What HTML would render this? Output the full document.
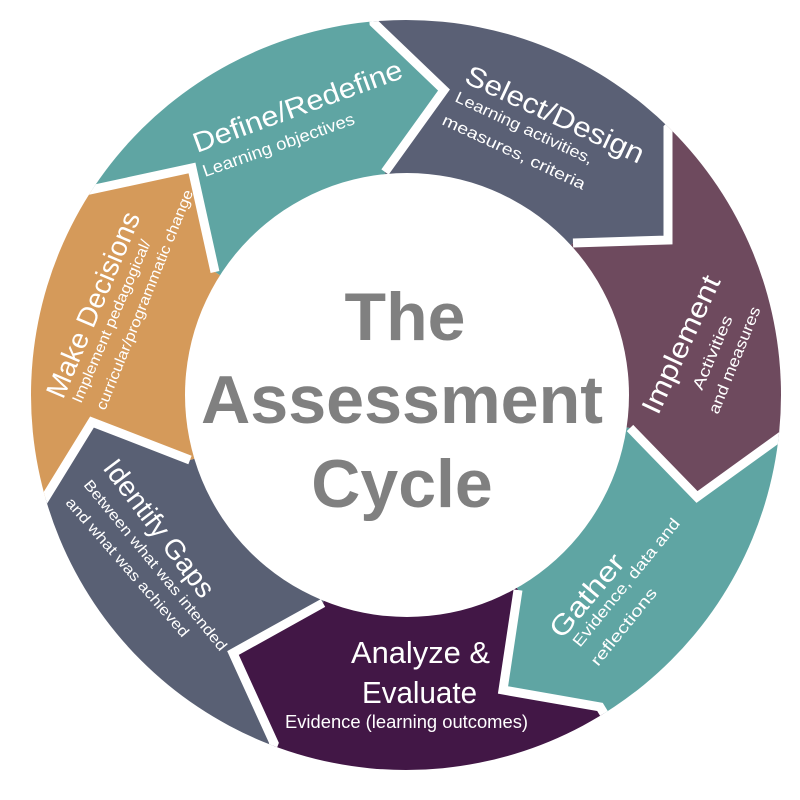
<!DOCTYPE html>
<html><head><meta charset="utf-8"><style>
html,body{margin:0;padding:0;background:#fff;width:800px;height:800px;overflow:hidden;}
svg{display:block;overflow:hidden;}
text{font-family:"Liberation Sans",sans-serif;fill:#fff;}
</style></head><body>
<svg width="800" height="800" viewBox="0 0 800 800" xmlns="http://www.w3.org/2000/svg">
<defs><clipPath id="c"><circle cx="406" cy="395" r="375"/></clipPath></defs>
<g clip-path="url(#c)">
<polygon fill="#5fa5a3" points="406,395 215,272 192,168 90,190 0,132 0,0 372,0 374,23 444,90 385,172"/>
<polygon fill="#5a6075" points="406,395 385,172 444,90 374,23 372,0 793,0 668,128 668,240 573,243"/>
<polygon fill="#6e4a5e" points="406,395 573,243 668,240 668,128 793,0 800,0 800,439 780,437 697,497 630,428"/>
<polygon fill="#5fa5a3" points="406,395 630,428 697,497 780,437 800,439 800,800 657,800 600,707 503,690 518,590"/>
<polygon fill="#421746" points="406,395 518,590 503,690 600,707 657,800 252,800 274,743 233,653 323,603"/>
<polygon fill="#596074" points="406,395 323,603 233,653 274,743 252,800 0,800 0,513 44,500 92,422 190,460"/>
<polygon fill="#d59a5a" points="406,395 190,460 92,422 44,500 0,513 0,132 90,190 192,168 215,272"/>
<g fill="none" stroke="#fff" stroke-width="9" stroke-linejoin="miter">
<polyline points="385,172 444,90 374,23 372,0"/>
<polyline points="573,243 668,240 668,128 793,0"/>
<polyline points="630,428 697,497 780,437 800,439"/>
<polyline points="518,590 503,690 600,707 657,800"/>
<polyline points="323,603 233,653 274,743 252,800"/>
<polyline points="190,460 92,422 44,500 0,513"/>
<polyline points="215,272 192,168 90,190 0,132"/>
</g>
</g>
<circle cx="407" cy="395" r="222" fill="#fff"/>
<g style="font-weight:bold;fill:#808080" text-anchor="middle" font-size="68">
<text x="405" y="340" style="fill:#808080">The</text>
<text x="402" y="423" style="fill:#808080" textLength="402" lengthAdjust="spacingAndGlyphs">Assessment</text>
<text x="402" y="507" style="fill:#808080">Cycle</text>
</g>
<text transform="translate(197,153) rotate(-20)" font-size="28" textLength="221" lengthAdjust="spacingAndGlyphs">Define/Redefine</text>
<text transform="translate(205,177) rotate(-19.5)" font-size="17" textLength="160" lengthAdjust="spacingAndGlyphs">Learning objectives</text>
<text transform="translate(463,82) rotate(25)" font-size="28" textLength="194" lengthAdjust="spacingAndGlyphs">Select/Design</text>
<text transform="translate(454,101) rotate(25)" font-size="16" textLength="150" lengthAdjust="spacingAndGlyphs">Learning activities,</text>
<text transform="translate(441,124) rotate(25)" font-size="16" textLength="156" lengthAdjust="spacingAndGlyphs">measures,  criteria</text>
<text transform="translate(658,416) rotate(-65)" font-size="28" textLength="149" lengthAdjust="spacingAndGlyphs">Implement</text>
<text transform="translate(702,391) rotate(-67)" font-size="16" textLength="79" lengthAdjust="spacingAndGlyphs">Activities</text>
<text transform="translate(718,415) rotate(-68)" font-size="16" textLength="114" lengthAdjust="spacingAndGlyphs">and measures</text>
<text transform="translate(562,640) rotate(-50)" font-size="28" textLength="100" lengthAdjust="spacingAndGlyphs">Gather</text>
<text transform="translate(580,648) rotate(-51)" font-size="16" textLength="160" lengthAdjust="spacingAndGlyphs">Evidence, data and</text>
<text transform="translate(598,667) rotate(-51)" font-size="16" textLength="95" lengthAdjust="spacingAndGlyphs">reflections</text>
<text x="351" y="663" font-size="31" textLength="139" lengthAdjust="spacingAndGlyphs">Analyze &amp;</text>
<text x="362" y="703" font-size="31" textLength="115" lengthAdjust="spacingAndGlyphs">Evaluate</text>
<text x="285" y="728" font-size="18" textLength="243" lengthAdjust="spacingAndGlyphs">Evidence (learning outcomes)</text>
<text transform="translate(102,468) rotate(53)" font-size="28" textLength="165" lengthAdjust="spacingAndGlyphs">Identify Gaps</text>
<text transform="translate(83,485) rotate(50.6)" font-size="15" textLength="216" lengthAdjust="spacingAndGlyphs">Between what was intended</text>
<text transform="translate(65,503) rotate(49)" font-size="15" textLength="179" lengthAdjust="spacingAndGlyphs">and what was achieved</text>
<text transform="translate(63,400) rotate(-67)" font-size="28" textLength="199" lengthAdjust="spacingAndGlyphs">Make Decisions</text>
<text transform="translate(81,404) rotate(-66.6)" font-size="15" textLength="176" lengthAdjust="spacingAndGlyphs">Implement pedagogical/</text>
<text transform="translate(105,411) rotate(-68)" font-size="15" textLength="236" lengthAdjust="spacingAndGlyphs">curricular/programmatic change</text>
</svg>
</body></html>
